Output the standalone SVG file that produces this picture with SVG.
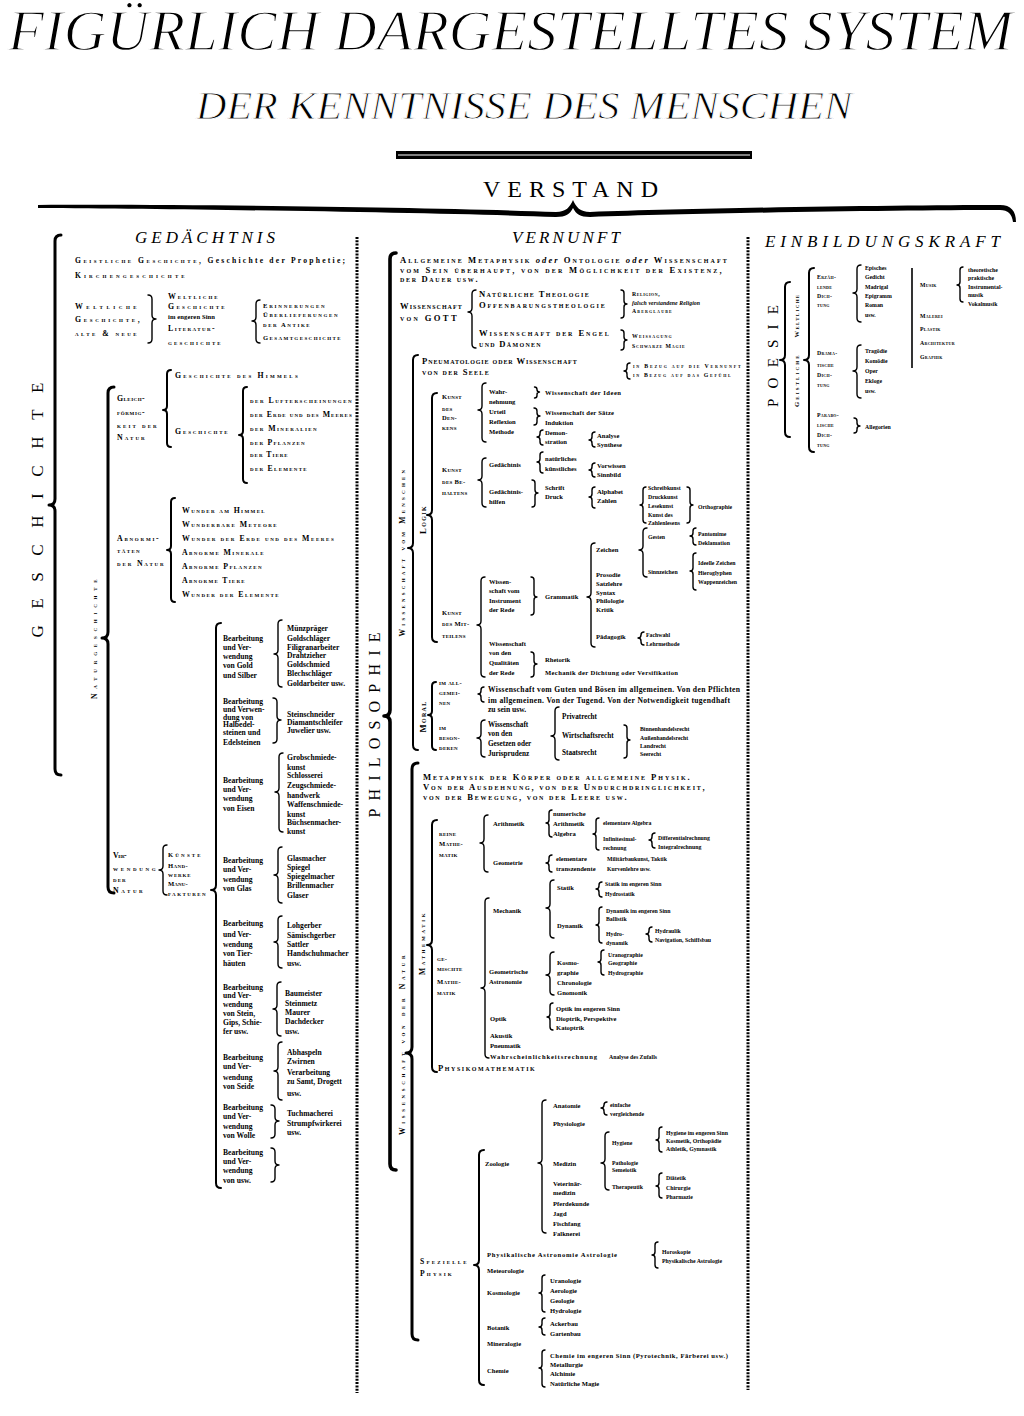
<svg xmlns="http://www.w3.org/2000/svg" width="1024" height="1416" viewBox="0 0 1024 1416">
<style>
text{font-family:"Liberation Serif","DejaVu Serif",serif;fill:#000}
.b{font-weight:bold}
.sc{font-variant:small-caps;font-weight:bold;letter-spacing:.3px}
.f5{font-size:5.8px}.f6{font-size:6.6px}.f7{font-size:7.8px}.f75{font-size:7.6px}.f8{font-size:8.6px}
.it{font-style:italic}
.vt{text-anchor:middle}
.thin{stroke:#fff;stroke-linejoin:round}
.br{fill:none;stroke:#000;stroke-linecap:round;stroke-linejoin:round}
.k{stroke-width:3}.m{stroke-width:2}.s{stroke-width:1.4}
.dot{stroke:#000;stroke-width:3;stroke-dasharray:2 1.3;fill:none}
</style>
<rect width="1024" height="1416" fill="#fff"/>

<g id="title">
<text x="8" y="50" class="it thin" stroke-width="1.3" font-size="58" textLength="1005" lengthAdjust="spacingAndGlyphs">FIGÜRLICH DARGESTELLTES SYSTEM</text>
<text x="196" y="119" class="it thin" stroke-width="0.9" font-size="40" textLength="656" lengthAdjust="spacingAndGlyphs">DER KENNTNISSE DES MENSCHEN</text>
</g>

<g id="connectors">
<rect x="396" y="151" width="356" height="8" fill="#000"/>
<line x1="398" y1="155" x2="750" y2="155" stroke="#fff" stroke-width="1"/>
<path d="M38,205 C200,204 450,208 556,212 C566,212 570,207 573,200 C576,207 580,212 590,212 C700,208 900,205 1000,205 C1011,205 1016,211 1016,222 L1013,222 C1012,214 1008,210 1000,210 C900,210 700,213 590,217 C580,217 576,214 573,208 C570,214 566,217 556,217 C450,213 200,209 38,208 Z" fill="#000"/>
<line class="dot" x1="357" y1="237" x2="357" y2="1393"/>
<line class="dot" x1="748" y1="237" x2="748" y2="1390"/>
<line x1="912" y1="268" x2="912" y2="368" stroke="#000" stroke-width="1.6"/>
<!-- Gedaechtnis -->
<path class="br k" d="M61,235q-6,0 -6,6V499q0,6 -6,6q6,0 6,6V769q0,6 6,6"/>
<path class="br s" d="M148,295q4,0 4,4V315q0,4 4,4q-4,0 -4,4V339q0,4 -4,4"/>
<path class="br s" d="M260,300q-4,0 -4,4V317q0,4 -4,4q4,0 4,4V339q0,4 4,4"/>
<path class="br k" d="M114,387q-6,0 -6,6V632q0,6 -6,6q6,0 6,6V887q0,6 6,6"/>
<path class="br m" d="M171,370q-4,0 -4,4V406q0,4 -4,4q4,0 4,4V443q0,4 4,4"/>
<path class="br m" d="M247,387q-4,0 -4,4V431q0,4 -4,4q4,0 4,4V479q0,4 4,4"/>
<path class="br m" d="M175,498q-4,0 -4,4V546q0,4 -4,4q4,0 4,4V598q0,4 4,4"/>
<path class="br s" d="M167,845q-4,0 -4,4V866q0,4 -4,4q4,0 4,4V891q0,4 4,4"/>
<path class="br m" d="M221,623q-5,0 -5,5V885q0,5 -5,5q5,0 5,5V1183q0,5 5,5"/>
<path class="br s" d="M282,620q-4,0 -4,4V650q0,4 -4,4q4,0 4,4V683q0,4 4,4"/>
<path class="br s" d="M273,698q4,0 4,4V716q0,4 4,4q-4,0 -4,4V739q0,4 -4,4"/>
<path class="br s" d="M283,753q-4,0 -4,4V788q0,4 -4,4q4,0 4,4V828q0,4 4,4"/>
<path class="br s" d="M282,847q-4,0 -4,4V871q0,4 -4,4q4,0 4,4V899q0,4 4,4"/>
<path class="br s" d="M282,916q-4,0 -4,4V938q0,4 -4,4q4,0 4,4V964q0,4 4,4"/>
<path class="br s" d="M281,982q-4,0 -4,4V1005q0,4 -4,4q4,0 4,4V1032q0,4 4,4"/>
<path class="br s" d="M282,1042q-4,0 -4,4V1067q0,4 -4,4q4,0 4,4V1096q0,4 4,4"/>
<path class="br s" d="M271,1105q4,0 4,4V1117q0,4 4,4q-4,0 -4,4V1134q0,4 -4,4"/>
<path class="br s" d="M271,1148q4,0 4,4V1161q0,4 4,4q-4,0 -4,4V1178q0,4 -4,4"/>
<!-- Vernunft -->
<path class="br" stroke-width="3.6" d="M396,253q-6,0 -6,6V710q0,6 -6,6q6,0 6,6V1164q0,6 6,6"/>
<path class="br s" d="M476,290q-4,0 -4,4V308q0,4 -4,4q4,0 4,4V344q0,4 4,4"/>
<path class="br s" d="M621,290q3,0 3,3V301q0,3 3,3q-3,0 -3,3V315q0,3 -3,3"/>
<path class="br s" d="M621,330q3,0 3,3V337q0,3 3,3q-3,0 -3,3V347q0,3 -3,3"/>
<path class="br m" d="M418,355q-5,0 -5,5V543q0,5 -5,5q5,0 5,5V745q0,5 5,5"/>
<path class="br s" d="M630,363q-3,0 -3,3V368q0,3 -3,3q3,0 3,3V376q0,3 3,3"/>
<path class="br m" d="M437,393q-5,0 -5,5V510q0,5 -5,5q5,0 5,5V637q0,5 5,5"/>
<path class="br s" d="M486,383q-4,0 -4,4V406q0,4 -4,4q4,0 4,4V438q0,4 4,4"/>
<path class="br s" d="M534.5,387q2.5,0 2.5,2.5V389.5q0,2.5 2.5,2.5q-2.5,0 -2.5,2.5V395.5q0,2.5 -2.5,2.5"/>
<path class="br s" d="M534,408q3,0 3,3V413q0,3 3,3q-3,0 -3,3V422q0,3 -3,3"/>
<path class="br s" d="M543,430q-3,0 -3,3V434q0,3 -3,3q3,0 3,3V442q0,3 3,3"/>
<path class="br s" d="M595,432q-3,0 -3,3V437q0,3 -3,3q3,0 3,3V444q0,3 3,3"/>
<path class="br s" d="M486,458q-4,0 -4,4V476q0,4 -4,4q4,0 4,4V503q0,4 4,4"/>
<path class="br s" d="M543,452q-3,0 -3,3V459q0,3 -3,3q3,0 3,3V470q0,3 3,3"/>
<path class="br s" d="M595,463q-3,0 -3,3V467q0,3 -3,3q3,0 3,3V474q0,3 3,3"/>
<path class="br s" d="M532,480q3,0 3,3V490q0,3 3,3q-3,0 -3,3V504q0,3 -3,3"/>
<path class="br s" d="M595,487q-3,0 -3,3V494q0,3 -3,3q3,0 3,3V505q0,3 3,3"/>
<path class="br s" d="M646,487q-3,0 -3,3V502q0,3 -3,3q3,0 3,3V520q0,3 3,3"/>
<path class="br s" d="M687,487q3,0 3,3V502q0,3 3,3q-3,0 -3,3V520q0,3 -3,3"/>
<path class="br s" d="M647,528q-4,0 -4,4V546q0,4 -4,4q4,0 4,4V573q0,4 4,4"/>
<path class="br s" d="M696,528q-3,0 -3,3V533q0,3 -3,3q3,0 3,3V542q0,3 3,3"/>
<path class="br s" d="M696,553q-3,0 -3,3V568q0,3 -3,3q3,0 3,3V587q0,3 3,3"/>
<path class="br s" d="M595,543q-4,0 -4,4V593q0,4 -4,4q4,0 4,4V643q0,4 4,4"/>
<path class="br s" d="M644,632q-3,0 -3,3V635q0,3 -3,3q3,0 3,3V642q0,3 3,3"/>
<path class="br s" d="M531,577q3,0 3,3V594q0,3 3,3q-3,0 -3,3V612q0,3 -3,3"/>
<path class="br s" d="M485,577q-4,0 -4,4V621q0,4 -4,4q4,0 4,4V673q0,4 4,4"/>
<path class="br s" d="M531,652q3,0 3,3V661q0,3 3,3q-3,0 -3,3V674q0,3 -3,3"/>
<path class="br m" d="M436,682q-4,0 -4,4V711q0,4 -4,4q4,0 4,4V746q0,4 4,4"/>
<path class="br s" d="M484,687q-3,0 -3,3V691q0,3 -3,3q3,0 3,3V699q0,3 3,3"/>
<path class="br s" d="M485,720q-4,0 -4,4V734q0,4 -4,4q4,0 4,4V753q0,4 4,4"/>
<path class="br s" d="M559,707q-4,0 -4,4V732q0,4 -4,4q4,0 4,4V756q0,4 4,4"/>
<path class="br s" d="M624,725q3,0 3,3V737q0,3 3,3q-3,0 -3,3V755q0,3 -3,3"/>
<path class="br k" d="M418,763q-6,0 -6,6V1047q0,6 -6,6q6,0 6,6V1334q0,6 6,6"/>
<path class="br m" d="M437,820q-5,0 -5,5V940q0,5 -5,5q5,0 5,5V1067q0,5 5,5"/>
<path class="br s" d="M488,815q-4,0 -4,4V839q0,4 -4,4q4,0 4,4V868q0,4 4,4"/>
<path class="br s" d="M552,810q-3,0 -3,3V820q0,3 -3,3q3,0 3,3V834q0,3 3,3"/>
<path class="br s" d="M599,818q-3,0 -3,3V831q0,3 -3,3q3,0 3,3V847q0,3 3,3"/>
<path class="br s" d="M655,833q-3,0 -3,3V837q0,3 -3,3q3,0 3,3V845q0,3 3,3"/>
<path class="br s" d="M552,855q-3,0 -3,3V860q0,3 -3,3q3,0 3,3V869q0,3 3,3"/>
<path class="br s" d="M489,898q-4,0 -4,4V984q0,4 -4,4q4,0 4,4V1054q0,4 4,4"/>
<path class="br s" d="M554,880q-4,0 -4,4V904q0,4 -4,4q4,0 4,4V934q0,4 4,4"/>
<path class="br s" d="M602,882q-3,0 -3,3V886q0,3 -3,3q3,0 3,3V894q0,3 3,3"/>
<path class="br s" d="M602,907q-3,0 -3,3V922q0,3 -3,3q3,0 3,3V940q0,3 3,3"/>
<path class="br s" d="M652,927q-3,0 -3,3V931q0,3 -3,3q3,0 3,3V939q0,3 3,3"/>
<path class="br s" d="M554,952q-4,0 -4,4V971q0,4 -4,4q4,0 4,4V991q0,4 4,4"/>
<path class="br s" d="M604,950q-3,0 -3,3V959q0,3 -3,3q3,0 3,3V972q0,3 3,3"/>
<path class="br s" d="M553,1003q-3,0 -3,3V1014q0,3 -3,3q3,0 3,3V1027q0,3 3,3"/>
<path class="br m" d="M484,1150q-5,0 -5,5V1260q0,5 -5,5q5,0 5,5V1380q0,5 5,5"/>
<path class="br s" d="M546,1100q-4,0 -4,4V1159q0,4 -4,4q4,0 4,4V1229q0,4 4,4"/>
<path class="br s" d="M607,1102q-3,0 -3,3V1105q0,3 -3,3q3,0 3,3V1112q0,3 3,3"/>
<path class="br s" d="M609,1132q-4,0 -4,4V1159q0,4 -4,4q4,0 4,4V1186q0,4 4,4"/>
<path class="br s" d="M662,1127q-3,0 -3,3V1137q0,3 -3,3q3,0 3,3V1149q0,3 3,3"/>
<path class="br s" d="M662,1173q-3,0 -3,3V1183q0,3 -3,3q3,0 3,3V1195q0,3 3,3"/>
<path class="br s" d="M658,1242q-3,0 -3,3V1252q0,3 -3,3q3,0 3,3V1265q0,3 3,3"/>
<path class="br s" d="M545,1275q-3,0 -3,3V1290q0,3 -3,3q3,0 3,3V1309q0,3 3,3"/>
<path class="br s" d="M545,1318q-3,0 -3,3V1324q0,3 -3,3q3,0 3,3V1332q0,3 3,3"/>
<path class="br s" d="M545,1350q-3,0 -3,3V1365q0,3 -3,3q3,0 3,3V1384q0,3 3,3"/>
<!-- Einbildungskraft -->
<path class="br m" d="M790,282q-5,0 -5,5V355q0,5 -5,5q5,0 5,5V432q0,5 5,5"/>
<path class="br m" d="M814,268q-5,0 -5,5V355q0,5 -5,5q5,0 5,5V447q0,5 5,5"/>
<path class="br s" d="M861,265q-4,0 -4,4V289q0,4 -4,4q4,0 4,4V318q0,4 4,4"/>
<path class="br s" d="M861,345q-4,0 -4,4V367q0,4 -4,4q4,0 4,4V394q0,4 4,4"/>
<path class="br s" d="M854,418q3,0 3,3V423q0,3 3,3q-3,0 -3,3V430q0,3 -3,3"/>
<path class="br s" d="M963,267q-3,0 -3,3V282q0,3 -3,3q3,0 3,3V299q0,3 3,3"/>
</g>

<g id="n-verstand"><text x="483" y="197" font-size="24" textLength="175">VERSTAND</text></g>

<!-- ============ GEDAECHTNIS ============ -->
<g id="n-gedaechtnis"><text x="135" y="243" class="it" font-size="17" textLength="140">GEDÄCHTNIS</text></g>
<g id="n-geschichte"><text class="vt" font-size="17" transform="translate(43,510) rotate(-90)" textLength="255">GESCHICHTE</text></g>
<g id="n-geistliche" class="f75">
<text x="75" y="263" class="b" textLength="270"><tspan class="sc">Geistliche Geschichte,</tspan> Geschichte der Prophetie;</text>
<text x="75" y="278" class="sc" textLength="110">Kirchengeschichte</text>
</g>
<g id="n-weltliche" class="f7">
<text x="75" y="309" class="sc" textLength="62">Weltliche</text>
<text x="75" y="322" class="sc" textLength="65">Geschichte,</text>
<text x="75" y="336" class="sc" textLength="62">alte &amp; neue</text>
</g>
<g id="n-weltliche2" class="f7">
<text x="168" y="299" class="sc" textLength="50">Weltliche</text>
<text x="168" y="309" class="sc" textLength="57">Geschichte</text>
<text x="168" y="319" class="b f6" textLength="47">im engeren Sinn</text>
<text x="168" y="331" class="sc" textLength="47">Literatur-</text>
<text x="168" y="345" class="sc" textLength="53">geschichte</text>
</g>
<g id="n-erinnerungen" class="f6">
<text x="263" y="308" class="sc" textLength="62">Erinnerungen</text>
<text x="263" y="317" class="sc" textLength="75">Überlieferungen</text>
<text x="263" y="327" class="sc" textLength="47">der Antike</text>
<text x="263" y="340" class="sc" textLength="78">Gesamtgeschichte</text>
</g>
<g id="n-naturgeschichte"><text class="sc f75 vt" transform="translate(97,639) rotate(-90)" textLength="120">Naturgeschichte</text></g>
<g id="n-gleichfoermigkeit" class="f7">
<text x="117" y="401" class="sc" textLength="28">Gleich-</text>
<text x="117" y="415" class="sc" textLength="28">förmig-</text>
<text x="117" y="428" class="sc" textLength="40">keit der</text>
<text x="117" y="440" class="sc" textLength="28">Natur</text>
</g>
<g id="n-himmel" class="f7"><text x="175" y="378" class="sc" textLength="123">Geschichte des Himmels</text></g>
<g id="n-gesch" class="f7"><text x="175" y="434" class="sc" textLength="53">Geschichte</text></g>
<g id="n-gesch-items" class="f7">
<text x="250" y="403" class="sc" textLength="102">der Lufterscheinungen</text>
<text x="250" y="417" class="sc" textLength="102">der Erde und des Meeres</text>
<text x="250" y="431" class="sc" textLength="67">der Mineralien</text>
<text x="250" y="445" class="sc" textLength="55">der Pflanzen</text>
<text x="250" y="457" class="sc" textLength="38">der Tiere</text>
<text x="250" y="471" class="sc" textLength="57">der Elemente</text>
</g>
<g id="n-abnorm" class="f7">
<text x="117" y="541" class="sc" textLength="42">Abnormi-</text>
<text x="117" y="553" class="sc" textLength="23">täten</text>
<text x="117" y="566" class="sc" textLength="47">der Natur</text>
</g>
<g id="n-abnorm-items" class="f7">
<text x="182" y="513" class="sc" textLength="83">Wunder am Himmel</text>
<text x="182" y="527" class="sc" textLength="95">Wunderbare Meteore</text>
<text x="182" y="541" class="sc" textLength="152">Wunder der Erde und des Meeres</text>
<text x="182" y="555" class="sc" textLength="82">Abnorme Minerale</text>
<text x="182" y="569" class="sc" textLength="80">Abnorme Pflanzen</text>
<text x="182" y="583" class="sc" textLength="63">Abnorme Tiere</text>
<text x="182" y="597" class="sc" textLength="97">Wunder der Elemente</text>
</g>
<g id="n-verwendung" class="f7">
<text x="113" y="858" class="sc" textLength="14">Ver-</text>
<text x="113" y="871" class="sc" textLength="43">wendung</text>
<text x="113" y="882" class="sc" textLength="13">der</text>
<text x="113" y="893" class="sc" textLength="30">Natur</text>
</g>
<g id="n-kuenste" class="f6">
<text x="168" y="857" class="sc" textLength="33">Künste</text>
<text x="168" y="868" class="sc" textLength="20">Hand-</text>
<text x="168" y="877" class="sc" textLength="23">werke</text>
<text x="168" y="886" class="sc" textLength="20">Manu-</text>
<text x="168" y="896" class="sc" textLength="38">fakturen</text>
</g>
<g class="b f75">
<g id="n-gold"><text x="223" y="641">Bearbeitung</text><text x="223" y="650">und Ver-</text><text x="223" y="659">wendung</text><text x="223" y="668">von Gold</text><text x="223" y="678">und Silber</text></g>
<g id="n-gold-items"><text x="287" y="631">Münzpräger</text><text x="287" y="641">Goldschläger</text><text x="287" y="650">Filigranarbeiter</text><text x="287" y="658">Drahtzieher</text><text x="287" y="667">Goldschmied</text><text x="287" y="676">Blechschläger</text><text x="287" y="686">Goldarbeiter usw.</text></g>
<g id="n-edelstein"><text x="223" y="704">Bearbeitung</text><text x="223" y="712">und Verwen-</text><text x="223" y="720">dung von</text><text x="223" y="727">Halbedel-</text><text x="223" y="735">steinen und</text><text x="223" y="745">Edelsteinen</text></g>
<g id="n-edelstein-items"><text x="287" y="717">Steinschneider</text><text x="287" y="725">Diamantschleifer</text><text x="287" y="733">Juwelier usw.</text></g>
<g id="n-eisen"><text x="223" y="783">Bearbeitung</text><text x="223" y="792">und Ver-</text><text x="223" y="801">wendung</text><text x="223" y="811">von Eisen</text></g>
<g id="n-eisen-items"><text x="287" y="760">Grobschmiede-</text><text x="287" y="770">kunst</text><text x="287" y="778">Schlosserei</text><text x="287" y="788">Zeugschmiede-</text><text x="287" y="798">handwerk</text><text x="287" y="807">Waffenschmiede-</text><text x="287" y="817">kunst</text><text x="287" y="825">Büchsenmacher-</text><text x="287" y="834">kunst</text></g>
<g id="n-glas"><text x="223" y="863">Bearbeitung</text><text x="223" y="872">und Ver-</text><text x="223" y="882">wendung</text><text x="223" y="891">von Glas</text></g>
<g id="n-glas-items"><text x="287" y="861">Glasmacher</text><text x="287" y="870">Spiegel</text><text x="287" y="879">Spiegelmacher</text><text x="287" y="888">Brillenmacher</text><text x="287" y="898">Glaser</text></g>
<g id="n-haeute"><text x="223" y="926">Bearbeitung</text><text x="223" y="937">und Ver-</text><text x="223" y="947">wendung</text><text x="223" y="956">von Tier-</text><text x="223" y="966">häuten</text></g>
<g id="n-haeute-items"><text x="287" y="928">Lohgerber</text><text x="287" y="938">Sämischgerber</text><text x="287" y="947">Sattler</text><text x="287" y="956">Handschuhmacher</text><text x="287" y="966">usw.</text></g>
<g id="n-stein"><text x="223" y="990">Bearbeitung</text><text x="223" y="998">und Ver-</text><text x="223" y="1007">wendung</text><text x="223" y="1016">von Stein,</text><text x="223" y="1025">Gips, Schie-</text><text x="223" y="1034">fer usw.</text></g>
<g id="n-stein-items"><text x="285" y="996">Baumeister</text><text x="285" y="1006">Steinmetz</text><text x="285" y="1015">Maurer</text><text x="285" y="1024">Dachdecker</text><text x="285" y="1034">usw.</text></g>
<g id="n-seide"><text x="223" y="1060">Bearbeitung</text><text x="223" y="1069">und Ver-</text><text x="223" y="1080">wendung</text><text x="223" y="1089">von Seide</text></g>
<g id="n-seide-items"><text x="287" y="1055">Abhaspeln</text><text x="287" y="1064">Zwirnen</text><text x="287" y="1075">Verarbeitung</text><text x="287" y="1084">zu Samt, Drogett</text><text x="287" y="1096">usw.</text></g>
<g id="n-wolle"><text x="223" y="1110">Bearbeitung</text><text x="223" y="1119">und Ver-</text><text x="223" y="1129">wendung</text><text x="223" y="1138">von Wolle</text></g>
<g id="n-wolle-items"><text x="287" y="1116">Tuchmacherei</text><text x="287" y="1126">Strumpfwirkerei</text><text x="287" y="1135">usw.</text></g>
<g id="n-usw"><text x="223" y="1155">Bearbeitung</text><text x="223" y="1164">und Ver-</text><text x="223" y="1173">wendung</text><text x="223" y="1183">von usw.</text></g>
</g>

<!-- ============ VERNUNFT ============ -->
<g id="n-vernunft"><text x="512" y="243" class="it" font-size="17" textLength="108">VERNUNFT</text></g>
<g id="n-philosophie"><text class="vt" font-size="16" transform="translate(380,725) rotate(-90)" textLength="185">PHILOSOPHIE</text></g>
<g id="n-metaphysik" class="f8">
<text x="400" y="263" class="sc" textLength="327">Allgemeine Metaphysik <tspan class="it" font-variant="normal">oder</tspan> Ontologie <tspan class="it" font-variant="normal">oder</tspan> Wissenschaft</text>
<text x="400" y="273" class="sc" textLength="322">vom Sein überhaupt, von der Möglichkeit der Existenz,</text>
<text x="400" y="282" class="sc" textLength="78">der Dauer usw.</text>
</g>
<g id="n-gott" class="f8">
<text x="400" y="309" class="sc" textLength="62">Wissenschaft</text>
<text x="400" y="321" class="sc" textLength="57">von GOTT</text>
</g>
<g id="n-theologie" class="f8">
<text x="479" y="297" class="sc" textLength="110">Natürliche Theologie</text>
<text x="479" y="308" class="sc" textLength="126">Offenbarungstheologie</text>
<text x="479" y="336" class="sc" textLength="130">Wissenschaft der Engel</text>
<text x="479" y="347" class="sc" textLength="62">und Dämonen</text>
</g>
<g id="n-religion" class="f5">
<text x="632" y="296" class="sc" textLength="28">Religion,</text>
<text x="632" y="305" class="b it" textLength="68">falsch verstandene Religion</text>
<text x="632" y="313" class="sc" textLength="40">Aberglaube</text>
</g>
<g id="n-weissagung" class="f5">
<text x="632" y="338" class="sc" textLength="40">Weissagung</text>
<text x="632" y="348" class="sc" textLength="53">Schwarze Magie</text>
</g>
<g id="n-pneumatologie" class="f8">
<text x="422" y="364" class="sc" textLength="155">Pneumatologie oder Wissenschaft</text>
<text x="422" y="375" class="sc" textLength="67">von der Seele</text>
</g>
<g id="n-bezug" class="f5">
<text x="633" y="368" class="sc" textLength="108">in Bezug auf die Vernunft</text>
<text x="633" y="377" class="sc" textLength="98">in Bezug auf das Gefühl</text>
</g>
<g id="n-menschen"><text class="sc f75 vt" transform="translate(405,553) rotate(-90)" textLength="167">Wissenschaft vom Menschen</text></g>
<g id="n-logik"><text class="sc f8 vt" transform="translate(426,520) rotate(-90)" textLength="28">Logik</text></g>
<g id="n-moral"><text class="sc f8 vt" transform="translate(426,717) rotate(-90)" textLength="31">Moral</text></g>

<g class="f6">
<g id="n-denken"><text x="442" y="399" class="sc">Kunst</text><text x="442" y="411" class="sc">des</text><text x="442" y="420" class="sc">Den-</text><text x="442" y="430" class="sc">kens</text></g>
<g id="n-denken-items" class="b"><text x="489" y="394">Wahr-</text><text x="489" y="404">nehmung</text><text x="489" y="414">Urteil</text><text x="489" y="424">Reflexion</text><text x="489" y="434">Methode</text></g>
<g class="b">
<text id="n-ideen" x="545" y="395" textLength="76">Wissenschaft der Ideen</text>
<g id="n-saetze"><text x="545" y="415" textLength="69">Wissenschaft der Sätze</text><text x="545" y="425">Induktion</text></g>
<g id="n-demonstration"><text x="545" y="435">Demon-</text><text x="545" y="444">stration</text></g>
<g id="n-analyse"><text x="597" y="438">Analyse</text><text x="597" y="447">Synthese</text></g>
</g>
<g id="n-behalten"><text x="442" y="472" class="sc">Kunst</text><text x="442" y="484" class="sc">des Be-</text><text x="442" y="495" class="sc">haltens</text></g>
<g class="b">
<text id="n-gedaechtnis2" x="489" y="467">Gedächtnis</text>
<g id="n-hilfen"><text x="489" y="494">Gedächtnis-</text><text x="489" y="504">hilfen</text></g>
<g id="n-natuerlich"><text x="545" y="461">natürliches</text><text x="545" y="471">künstliches</text></g>
<g id="n-vorwissen"><text x="597" y="468">Vorwissen</text><text x="597" y="477">Sinnbild</text></g>
<g id="n-schrift"><text x="545" y="490">Schrift</text><text x="545" y="499">Druck</text></g>
<g id="n-alphabet"><text x="597" y="494">Alphabet</text><text x="597" y="503">Zahlen</text></g>
</g>
<g class="b f5">
<g id="n-schreibkunst"><text x="648" y="490">Schreibkunst</text><text x="648" y="499">Druckkunst</text><text x="648" y="508">Lesekunst</text><text x="648" y="517">Kunst des</text><text x="648" y="525">Zahlenlesens</text></g>
<text id="n-orthographie" x="698" y="509">Orthographie</text>
<text id="n-gesten" x="648" y="539">Gesten</text>
<g id="n-pantomime"><text x="698" y="536">Pantomime</text><text x="698" y="545">Deklamation</text></g>
<text id="n-sinnzeichen" x="648" y="574">Sinnzeichen</text>
<g id="n-ideelle"><text x="698" y="565">Ideelle Zeichen</text><text x="698" y="575">Hieroglyphen</text><text x="698" y="584">Wappenzeichen</text></g>
<g id="n-fachwahl"><text x="646" y="637">Fachwahl</text><text x="646" y="646">Lehrmethode</text></g>
</g>
<g class="b">
<text id="n-zeichen" x="596" y="552">Zeichen</text>
<g id="n-prosodie"><text x="596" y="577">Prosodie</text><text x="596" y="586">Satzlehre</text><text x="596" y="595">Syntax</text><text x="596" y="603">Philologie</text><text x="596" y="612">Kritik</text></g>
<text id="n-paedagogik" x="596" y="639">Pädagogik</text>
<text id="n-grammatik" x="545" y="599">Grammatik</text>
<g id="n-instrument"><text x="489" y="584">Wissen-</text><text x="489" y="593">schaft vom</text><text x="489" y="603">Instrument</text><text x="489" y="612">der Rede</text></g>
<g id="n-qualitaeten"><text x="489" y="646">Wissenschaft</text><text x="489" y="655">von den</text><text x="489" y="665">Qualitäten</text><text x="489" y="675">der Rede</text></g>
<g id="n-rhetorik"><text x="545" y="662">Rhetorik</text><text x="545" y="675" textLength="133">Mechanik der Dichtung oder Versifikation</text></g>
</g>
<g id="n-mitteilen"><text x="442" y="615" class="sc">Kunst</text><text x="442" y="626" class="sc">des Mit-</text><text x="442" y="638" class="sc">teilens</text></g>
<g id="n-allgemein"><text x="439" y="685" class="sc">im all-</text><text x="439" y="695" class="sc">gemei-</text><text x="439" y="705" class="sc">nen</text></g>
<g id="n-besonderen"><text x="439" y="730" class="sc">im</text><text x="439" y="740" class="sc">beson-</text><text x="439" y="750" class="sc">deren</text></g>
</g>
<g class="b f75">
<g id="n-guten"><text x="488" y="692" textLength="252">Wissenschaft vom Guten und Bösen im allgemeinen. Von den Pflichten</text><text x="488" y="703" textLength="242">im allgemeinen. Von der Tugend. Von der Notwendigkeit tugendhaft</text><text x="488" y="712">zu sein usw.</text></g>
<g id="n-gesetze" style="font-size:7.2px"><text x="488" y="727">Wissenschaft</text><text x="488" y="736">von den</text><text x="488" y="746">Gesetzen oder</text><text x="488" y="756">Jurisprudenz</text></g>
<g id="n-recht" style="font-size:7.2px"><text x="562" y="719">Privatrecht</text><text x="562" y="738">Wirtschaftsrecht</text><text x="562" y="755">Staatsrecht</text></g>
<g id="n-handelsrecht" class="f5"><text x="640" y="731">Binnenhandelsrecht</text><text x="640" y="740">Außenhandelsrecht</text><text x="640" y="748">Landrecht</text><text x="640" y="756">Seerecht</text></g>
</g>

<g id="n-natur"><text class="sc f75 vt" transform="translate(405,1045) rotate(-90)" textLength="180">Wissenschaft von der Natur</text></g>
<g id="n-mathematik"><text class="sc f75 vt" transform="translate(425,944) rotate(-90)" textLength="62">Mathematik</text></g>
<g id="n-koerper" class="f8">
<text x="423" y="780" class="sc" textLength="267">Metaphysik der Körper oder allgemeine Physik.</text>
<text x="423" y="790" class="sc" textLength="282">Von der Ausdehnung, von der Undurchdringlichkeit,</text>
<text x="423" y="800" class="sc" textLength="204">von der Bewegung, von der Leere usw.</text>
</g>
<g class="f6">
<g id="n-reine"><text x="439" y="836" class="sc">reine</text><text x="439" y="846" class="sc">Mathe-</text><text x="439" y="857" class="sc">matik</text></g>
<g id="n-gemischte"><text x="437" y="961" class="sc">ge-</text><text x="437" y="971" class="sc">mischte</text><text x="437" y="984" class="sc">Mathe-</text><text x="437" y="995" class="sc">matik</text></g>
</g>
<g class="b f6">
<text id="n-arithmetik" x="493" y="826">Arithmetik</text>
<g id="n-algebra"><text x="553" y="816">numerische</text><text x="553" y="826">Arithmetik</text><text x="553" y="836">Algebra</text></g>
<g id="n-infinitesimal" class="f5"><text x="603" y="825">elementare Algebra</text><text x="603" y="841">Infinitesimal-</text><text x="603" y="850">rechnung</text></g>
<g id="n-differential" class="f5"><text x="658" y="840">Differentialrechnung</text><text x="658" y="849">Integralrechnung</text></g>
<text id="n-geometrie" x="493" y="865">Geometrie</text>
<g id="n-elementare"><text x="556" y="861">elementare</text><text x="556" y="871">transzendente</text></g>
<g id="n-taktik" class="f5"><text x="607" y="861">Militärbaukunst, Taktik</text><text x="607" y="871">Kurvenlehre usw.</text></g>
<text id="n-mechanik" x="493" y="913">Mechanik</text>
<g id="n-statik"><text x="557" y="890">Statik</text><text x="557" y="928">Dynamik</text></g>
<g id="n-statik-items" class="f5"><text x="605" y="886">Statik im engeren Sinn</text><text x="605" y="896">Hydrostatik</text></g>
<g id="n-dynamik-items" class="f5"><text x="606" y="913">Dynamik im engeren Sinn</text><text x="606" y="921">Ballistik</text><text x="606" y="936">Hydro-</text><text x="606" y="945">dynamik</text></g>
<g id="n-hydraulik" class="f5"><text x="655" y="933">Hydraulik</text><text x="655" y="942">Navigation, Schiffsbau</text></g>
<g id="n-astronomie"><text x="489" y="974">Geometrische</text><text x="489" y="984">Astronomie</text></g>
<g id="n-kosmographie"><text x="557" y="965">Kosmo-</text><text x="557" y="975">graphie</text><text x="557" y="985">Chronologie</text><text x="557" y="995">Gnomonik</text></g>
<g id="n-uranographie" class="f5"><text x="608" y="957">Uranographie</text><text x="608" y="965">Geographie</text><text x="608" y="975">Hydrographie</text></g>
<text id="n-optik" x="490" y="1021">Optik</text>
<g id="n-optik-items"><text x="556" y="1011">Optik im engeren Sinn</text><text x="556" y="1021">Dioptrik, Perspektive</text><text x="556" y="1030">Katoptrik</text></g>
<g id="n-akustik"><text x="490" y="1038">Akustik</text><text x="490" y="1048">Pneumatik</text><text x="490" y="1059" textLength="107">Wahrscheinlichkeitsrechnung</text></g>
<text id="n-zufall" x="609" y="1059" class="f5">Analyse des Zufalls</text>
</g>
<g id="n-physikomathematik"><text x="438" y="1071" class="sc f8" textLength="97">Physikomathematik</text></g>

<g class="b f6">
<text id="n-zoologie" x="485" y="1166">Zoologie</text>
<g id="n-zoologie-items"><text x="553" y="1108">Anatomie</text><text x="553" y="1126">Physiologie</text><text x="553" y="1166">Medizin</text><text x="553" y="1186">Veterinär-</text><text x="553" y="1195">medizin</text><text x="553" y="1206">Pferdekunde</text><text x="553" y="1216">Jagd</text><text x="553" y="1226">Fischfang</text><text x="553" y="1236">Falknerei</text></g>
<g id="n-anatomie" class="f5"><text x="610" y="1107">einfache</text><text x="610" y="1116">vergleichende</text></g>
<g id="n-medizin" class="f5"><text x="612" y="1145">Hygiene</text><text x="612" y="1165">Pathologie</text><text x="612" y="1172">Semeiotik</text><text x="612" y="1189">Therapeutik</text></g>
<g id="n-hygiene" class="f5"><text x="666" y="1135">Hygiene im engeren Sinn</text><text x="666" y="1143">Kosmetik, Orthopädie</text><text x="666" y="1151">Athletik, Gymnastik</text></g>
<g id="n-therapeutik" class="f5"><text x="666" y="1180">Diätetik</text><text x="666" y="1190">Chirurgie</text><text x="666" y="1199">Pharmazie</text></g>
<g id="n-physik-items"><text x="487" y="1257" textLength="130">Physikalische Astronomie Astrologie</text><text x="487" y="1273">Meteorologie</text><text x="487" y="1295">Kosmologie</text><text x="487" y="1330">Botanik</text><text x="487" y="1346">Mineralogie</text><text x="487" y="1373">Chemie</text></g>
<g id="n-astrologie" class="f5"><text x="662" y="1254">Horoskopie</text><text x="662" y="1263">Physikalische Astrologie</text></g>
<g id="n-kosmologie"><text x="550" y="1283">Uranologie</text><text x="550" y="1293">Aerologie</text><text x="550" y="1303">Geologie</text><text x="550" y="1313">Hydrologie</text></g>
<g id="n-botanik"><text x="550" y="1326">Ackerbau</text><text x="550" y="1336">Gartenbau</text></g>
<g id="n-chemie"><text x="550" y="1358" textLength="178">Chemie im engeren Sinn (Pyrotechnik, Färberei usw.)</text><text x="550" y="1367">Metallurgie</text><text x="550" y="1376">Alchimie</text><text x="550" y="1386">Natürliche Magie</text></g>
</g>
<g id="n-spezielle"><text x="420" y="1264" class="sc f75" textLength="47">Spezielle</text><text x="420" y="1276" class="sc f75" textLength="32">Physik</text></g>

<!-- ============ EINBILDUNGSKRAFT ============ -->
<g id="n-einbildungskraft"><text x="765" y="247" class="it" font-size="17" textLength="235">EINBILDUNGSKRAFT</text></g>
<g id="n-poesie"><text class="vt" font-size="15" transform="translate(778,356) rotate(-90)" textLength="102">POESIE</text></g>
<g id="n-weltl"><text class="sc f6 vt" transform="translate(799,316) rotate(-90)" textLength="43">Weltliche</text></g>
<g id="n-geistl"><text class="sc f6 vt" transform="translate(799,381) rotate(-90)" textLength="52">Geistliche</text></g>
<g class="f5">
<g id="n-erzaehlende"><text x="817" y="279" class="sc">Erzäh-</text><text x="817" y="289" class="sc">lende</text><text x="817" y="298" class="sc">Dich-</text><text x="817" y="307" class="sc">tung</text></g>
<g id="n-erzaehlende-items" class="b"><text x="865" y="270">Episches</text><text x="865" y="279">Gedicht</text><text x="865" y="289">Madrigal</text><text x="865" y="298">Epigramm</text><text x="865" y="307">Roman</text><text x="865" y="317">usw.</text></g>
<g id="n-dramatische"><text x="817" y="355" class="sc">Drama-</text><text x="817" y="367" class="sc">tische</text><text x="817" y="377" class="sc">Dich-</text><text x="817" y="387" class="sc">tung</text></g>
<g id="n-dramatische-items" class="b"><text x="865" y="353">Tragödie</text><text x="865" y="363">Komödie</text><text x="865" y="373">Oper</text><text x="865" y="383">Ekloge</text><text x="865" y="393">usw.</text></g>
<g id="n-parabolische"><text x="817" y="417" class="sc">Parabo-</text><text x="817" y="427" class="sc">lische</text><text x="817" y="437" class="sc">Dich-</text><text x="817" y="447" class="sc">tung</text></g>
<text id="n-allegorien" x="865" y="429" class="b">Allegorien</text>
<text id="n-musik" x="920" y="287" class="sc">Musik</text>
<g id="n-musik-items" class="b"><text x="968" y="272">theoretische</text><text x="968" y="280">praktische</text><text x="968" y="289">Instrumental-</text><text x="968" y="297">musik</text><text x="968" y="306">Vokalmusik</text></g>
<text id="n-malerei" x="920" y="318" class="sc">Malerei</text>
<text id="n-plastik" x="920" y="331" class="sc">Plastik</text>
<text id="n-architektur" x="920" y="345" class="sc">Architektur</text>
<text id="n-graphik" x="920" y="359" class="sc">Graphik</text>
</g>
</svg>
